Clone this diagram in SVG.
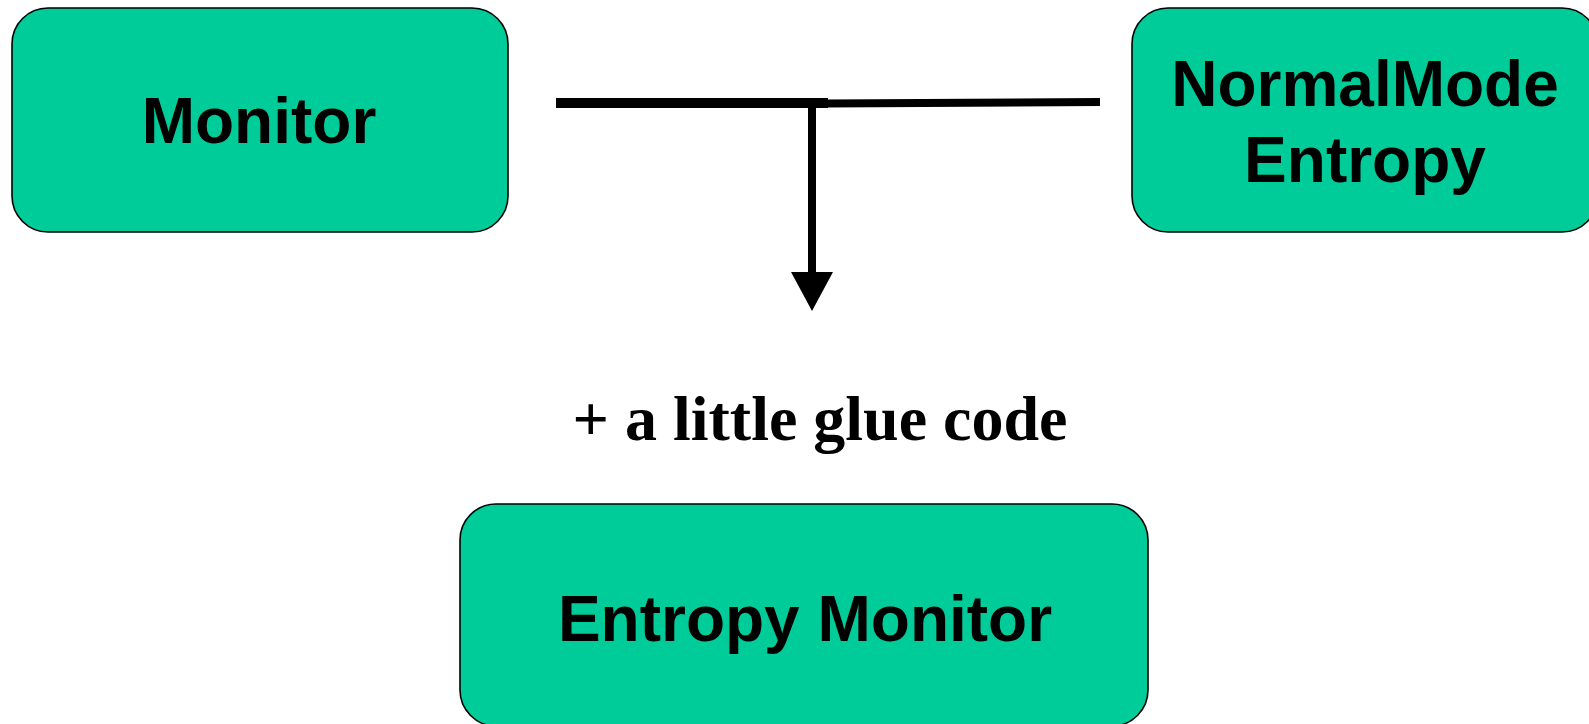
<svg xmlns="http://www.w3.org/2000/svg" width="1589" height="724" viewBox="0 0 1589 724">
  <style>
    .box { fill: #00CC99; stroke: #000; stroke-width: 1.6; }
    .label { font-family: "Liberation Sans", Arial, sans-serif; font-weight: bold; font-size: 64px; fill: #000; text-anchor: middle; }
    .note { font-family: "Liberation Serif", "Times New Roman", serif; font-weight: bold; font-size: 64px; fill: #000; text-anchor: middle; }
    .wire { fill: none; stroke: #000; stroke-linecap: butt; }
  </style>
  <defs>
    <marker id="arrowhead" markerUnits="userSpaceOnUse" markerWidth="40" markerHeight="44" viewBox="0 -22 40 44" refX="0" refY="0" orient="auto" overflow="visible">
      <path d="M0,-21 L39,0 L0,21 Z" fill="#000"/>
    </marker>
  </defs>

  <rect width="1589" height="724" fill="#fff"/>

  <!-- connectors: both parts join and feed down into the result -->
  <g id="connectors">
    <path class="wire" d="M556,103 H828" stroke-width="10"/>
    <path class="wire" d="M826,103.5 L1100,102" stroke-width="8"/>
    <path class="wire" d="M812,104 V272" stroke-width="8" marker-end="url(#arrowhead)"/>
  </g>

  <g id="monitor">
    <rect class="box" x="12" y="8" width="496" height="224" rx="36" ry="36"/>
    <text class="label" x="259" y="143">Monitor</text>
  </g>

  <g id="normalmode-entropy">
    <rect class="box" x="1132" y="8" width="466" height="224" rx="36" ry="36"/>
    <text class="label" x="1365" y="106">NormalMode</text>
    <text class="label" x="1365" y="182">Entropy</text>
  </g>

  <g id="glue-code">
    <text class="note" x="820" y="440">+ a little glue code</text>
  </g>

  <g id="entropy-monitor">
    <rect class="box" x="460" y="504" width="688" height="222" rx="36" ry="36"/>
    <text class="label" x="805" y="641">Entropy Monitor</text>
  </g>
</svg>
